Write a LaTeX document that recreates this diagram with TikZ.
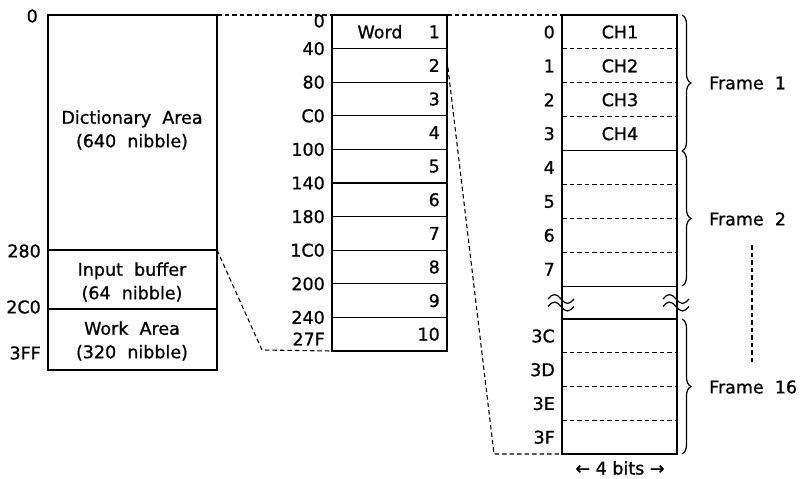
\documentclass[tikz,border=0pt]{standalone}
\usepackage{fontspec}
\setmainfont{DejaVu Sans}[FakeBold=0.9]
\usetikzlibrary{decorations.pathreplacing}
\begin{document}
\begin{tikzpicture}[x=1pt,y=-1pt, font=\fontsize{17.5}{23.5}\selectfont,
  box/.style={draw, line width=1.5pt, outer sep=0pt, inner sep=0pt, anchor=north west},
  conn/.style={line width=1.1pt, dash pattern=on 4.5pt off 3pt},
  addr/.style={anchor=east, inner sep=1pt},
  num/.style={anchor=east, inner sep=1pt},
  sepl/.style={line width=1.1pt},
  dsep/.style={line width=1.1pt, dash pattern=on 4.5pt off 3pt},
  wave/.style={line width=1.2pt},
  brc/.style={decorate, decoration={brace, amplitude=9pt}, line width=1.2pt},
  lbl/.style={anchor=west, inner sep=0pt}]
\useasboundingbox (0,0) rectangle (801,479);

% ---------- left box ----------
\node[box, minimum width=169pt, minimum height=355pt] (L) at (48,15) {};
\coordinate (La) at (48,250); \coordinate (Lb) at (217,250);
\coordinate (Lc) at (48,309); \coordinate (Ld) at (217,309);
\draw[sepl] (La) -- (Lb);
\draw[sepl] (Lc) -- (Ld);
\node[align=center] (dict) at (132,130) {Dictionary\ \ Area\\(640\ \ nibble)};
\node[align=center] (inbuf) at (132,282) {Input\ \ buffer\\(64\ \ nibble)};
\node[align=center] (work) at (132,341) {Work\ \ Area\\(320\ \ nibble)};
\node[addr] (l0) at (39,16) {0};
\node[addr] (l280) at (42,251) {280};
\node[addr] (l2c0) at (42,307) {2C0};
\node[addr] (l3ff) at (42,353) {3FF};

% ---------- middle box ----------
\node[box, minimum width=115pt, minimum height=336pt] (M) at (332,15) {};
\foreach \i in {1,...,9}
  \draw[sepl] (332,{15+33.6*\i}) -- (447,{15+33.6*\i});
\foreach \a [count=\i from 0] in {40,80,C0,100,140,180,1C0,200,240}
  \node[addr] (ma\i) at (326,{15+33.6*(\i+1)}) {\a};
\node[addr] (ma0) at (326,21) {0};
\node[addr] (maend) at (326,339) {27F};
\foreach \n [count=\i from 0] in {1,...,10}
  \node[num] (mw\n) at (441,{31.8+33.6*\i}) {\n};
\node (word) at (380,31.8) {Word};
\coordinate (Mtwo) at (447,60);

% ---------- right box ----------
\node[box, minimum width=115pt, minimum height=439pt] (R) at (562,15) {};
\foreach \i in {1,2,3,5,6,7}
  \draw[dsep] (562,{15+33.9*\i}) -- (677,{15+33.9*\i});
\draw[sepl] (562,150.6) -- (677,150.6);
\draw[sepl] (562,286.2) -- (677,286.2);
\draw[sepl] (562,319) -- (677,319);
\foreach \i in {1,2,3}
  \draw[dsep] (562,{319+33.75*\i}) -- (677,{319+33.75*\i});
\foreach \a [count=\i from 0] in {0,1,2,3,4,5,6,7}
  \node[addr] (ra\i) at (556,{32+33.9*\i}) {\a};
\foreach \a [count=\i from 0] in {3C,3D,3E,3F}
  \node[addr] (rb\i) at (556,{336+33.75*\i}) {\a};
\foreach \c [count=\i from 0] in {CH1,CH2,CH3,CH4}
  \node (ch\i) at (620,{32+33.9*\i}) {\c};

% wavy break marks
\foreach \x in {561,676}{
  \draw[wave] (\x-13,299) sin (\x-6.5,294.5) cos (\x,299) sin (\x+6.5,303.5) cos (\x+13,299);
  \draw[wave] (\x-13,306.5) sin (\x-6.5,302) cos (\x,306.5) sin (\x+6.5,311) cos (\x+13,306.5);
}

% braces and frame labels
\draw[brc] (682,15) -- (682,151);
\draw[brc] (682,151) -- (682,286);
\draw[brc] (682,319) -- (682,454);
\node[lbl] (f1) at (709,83) {Frame\ \ 1};
\node[lbl] (f2) at (709,219) {Frame\ \ 2};
\node[lbl] (f16) at (709,387) {Frame\ \ 16};
\coordinate (vd1) at (752,245); \coordinate (vd2) at (752,365);
\draw[dsep] (vd1) -- (vd2);

\node[inner sep=0pt] (bits) at (620,468) {← 4 bits →};

% ---------- dashed connectors ----------
\coordinate (k1) at (262,350);
\coordinate (k2) at (494,454);
\draw[conn] (L.north east) -- (M.north west);
\draw[conn] (M.north east) -- (R.north west);
\draw[conn] (Lb) -- (k1) -- (M.south west);
\draw[conn] (Mtwo) -- (k2) -- (R.south west);
\end{tikzpicture}
\end{document}
